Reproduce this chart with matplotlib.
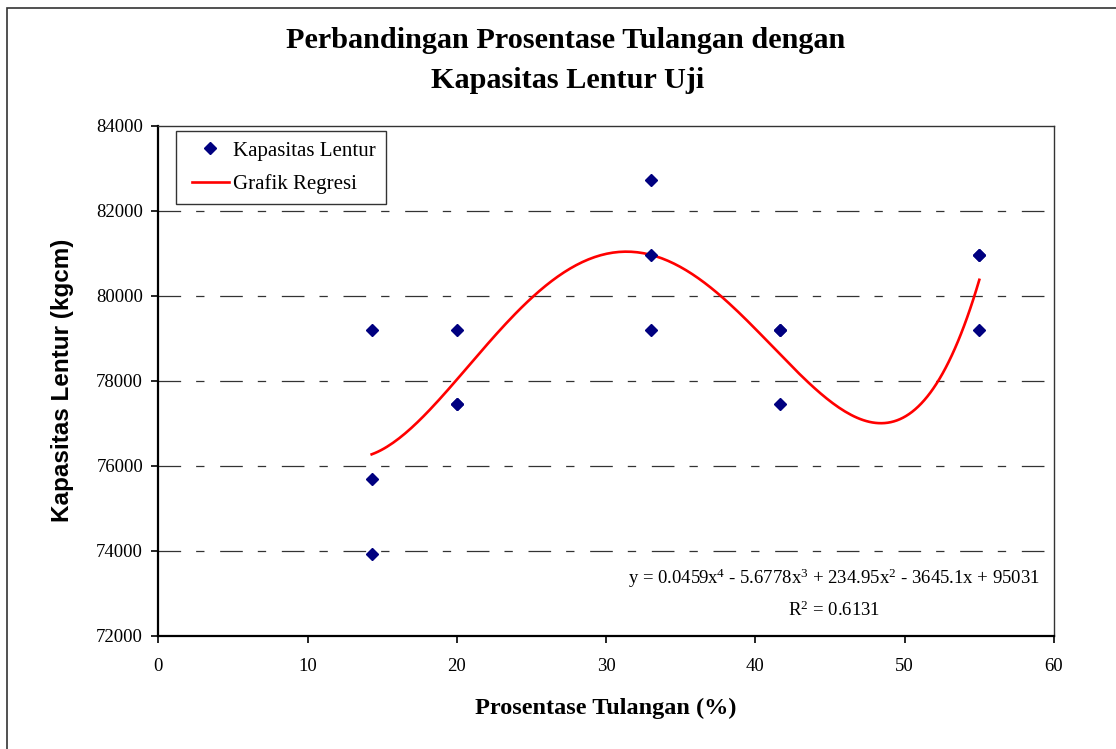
import numpy as np
import matplotlib
matplotlib.use('Agg')
import matplotlib.pyplot as plt
from matplotlib.patches import Rectangle
from matplotlib.legend_handler import HandlerLine2D

plt.rcParams['font.family'] = 'Liberation Serif'
plt.rcParams['mathtext.fontset'] = 'custom'
plt.rcParams['mathtext.rm'] = 'Liberation Serif'
plt.rcParams['mathtext.it'] = 'Liberation Serif'
plt.rcParams['lines.scale_dashes'] = False

##### data #####
tulangan = [14.29, 14.29, 14.29,
            20.0, 20.0, 20.0,
            33.0, 33.0, 33.0,
            41.67, 41.67, 41.67,
            55.0, 55.0, 55.0]
kapasitas = [79200, 75680, 73920,
             79200, 77440, 77440,
             82720, 80960, 79200,
             79200, 79200, 77440,
             80960, 80960, 79200]
x_ticks = [0, 10, 20, 30, 40, 50, 60]
y_ticks = [72000, 74000, 76000, 78000, 80000, 82000, 84000]
equation = r'y = 0.0459x$^{4}$ - 5.6778x$^{3}$ + 234.95x$^{2}$ - 3645.1x + 95031'
r_squared = r'R$^{2}$ = 0.6131'


class ShiftedLine(HandlerLine2D):
    # legend handle pushed a bit to the right, like the Excel legend
    def create_artists(self, legend, orig_handle, xdescent, ydescent,
                       width, height, fontsize, trans):
        shift = 4.0
        return super().create_artists(legend, orig_handle, xdescent - shift,
                                      ydescent, width - shift, height,
                                      fontsize, trans)


# 4th order regression like Excel trendline
coef = np.polyfit(tulangan, kapasitas, 4)
x_fit = np.linspace(min(tulangan), max(tulangan), 200)
y_fit = np.polyval(coef, x_fit)

fig = plt.figure(figsize=(11.16, 7.49), dpi=100)
ax = fig.add_axes([0.1419, 0.1513, 0.8025, 0.6809])

# outer chart frame
fig.patches.append(Rectangle((7/1116, -0.02), 1.05, 1 - 7.5/749 + 0.02,
                             transform=fig.transFigure, fill=False,
                             edgecolor='#333333', linewidth=1.2))

for yv in y_ticks[1:-1]:
    ax.axhline(yv, color='#333333', linewidth=0.9,
               dashes=(16.3, 10.8, 6.0, 11.3), zorder=1)

pts, = ax.plot(tulangan, kapasitas, linestyle='none', marker='D', markersize=6.5,
               color='#000080', label='Kapasitas Lentur', zorder=3)
reg, = ax.plot(x_fit, y_fit, color='red', linewidth=1.9, label='Grafik Regresi', zorder=2)

ax.set_xlim(0, 60)
ax.set_ylim(72000, 84000)
ax.set_xticks(x_ticks)
ax.set_yticks(y_ticks)
ax.tick_params(axis='both', labelsize=13.5, direction='out', length=5, width=1.2,
               colors='black')
ax.tick_params(axis='x', pad=11)
ax.tick_params(axis='y', pad=6)

for side in ['left', 'bottom']:
    ax.spines[side].set_linewidth(1.6)
    ax.spines[side].set_color('black')
for side in ['top', 'right']:
    ax.spines[side].set_linewidth(1.0)
    ax.spines[side].set_color('#333333')

ax.set_xlabel('Prosentase Tulangan (%)', fontsize=17.5, fontweight='bold', va='center')
ax.xaxis.set_label_coords(0.5, -0.142)
ax.set_ylabel('Kapasitas Lentur (kgcm)', fontsize=17.5, fontweight='bold',
              family='Liberation Sans', va='center')
ax.yaxis.set_label_coords(-0.1075, 0.5)

leg = ax.legend(handles=[pts, reg], loc='upper left', bbox_to_anchor=(0.0198, 0.9896),
                borderaxespad=0, fontsize=15, frameon=True, fancybox=False,
                edgecolor='black', handlelength=2.05, handletextpad=0.2,
                borderpad=0.48, labelspacing=0.66,
                handler_map={pts: ShiftedLine(), reg: ShiftedLine()})
leg.get_frame().set_linewidth(1.0)

ax.text(0.754, 0.112, equation, transform=ax.transAxes, fontsize=13.5,
        ha='center', va='center')
ax.text(0.754, 0.049, r_squared, transform=ax.transAxes, fontsize=13.5,
        ha='center', va='center')

fig.text(566/1116, 1 - 40/749, 'Perbandingan Prosentase Tulangan dengan',
         fontsize=21.8, fontweight='bold', ha='center', va='center')
fig.text(568/1116, 1 - 80/749, 'Kapasitas Lentur Uji',
         fontsize=21.8, fontweight='bold', ha='center', va='center')

plt.savefig('out.png', dpi=100)
